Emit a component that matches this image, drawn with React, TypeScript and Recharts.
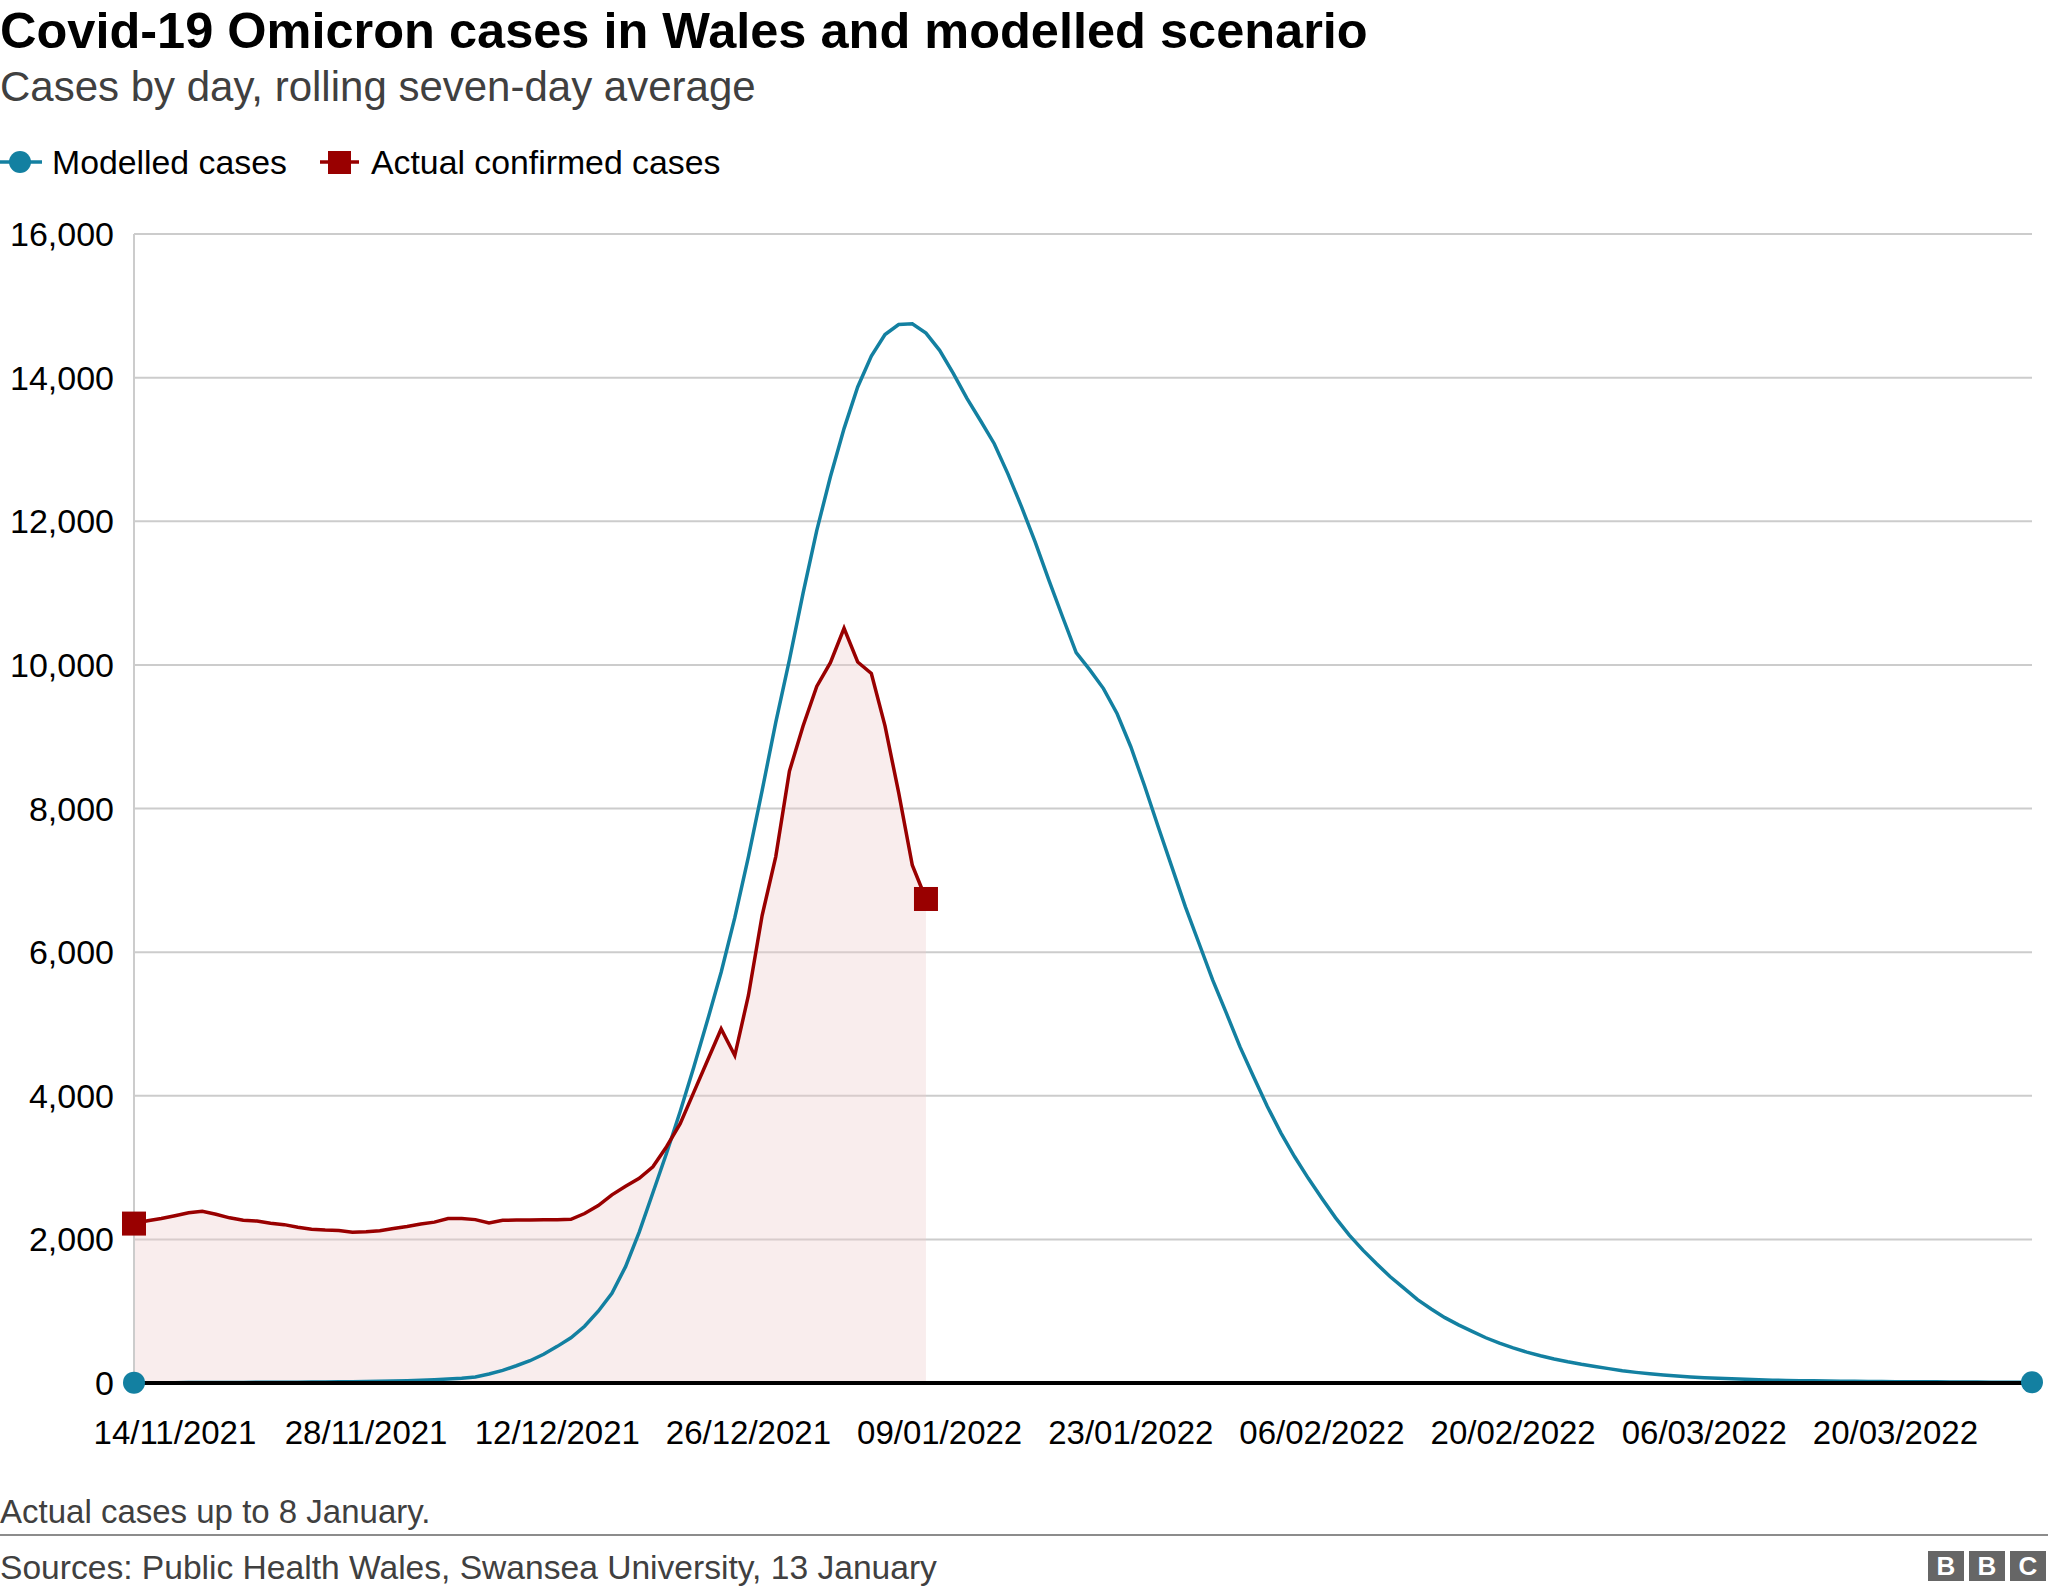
import React from "react";
import {
  ComposedChart,
  Line,
  Area,
  XAxis,
  YAxis,
  CartesianGrid,
} from "recharts";

const BLUE = "#1380a1";
const RED = "#990000";
const FONT = "'Liberation Sans', Arial, Helvetica, sans-serif";

// one value per day, starting 11/11/2021
const modelled = [
  5, 5, 5, 5, 6, 6, 7, 7, 8, 9,
  10, 11, 12, 13, 15, 17, 19, 22, 25, 29,
  33, 38, 45, 54, 65, 85, 125, 175, 240, 310,
  400, 510, 630, 790, 1000, 1250, 1620, 2100, 2650, 3200,
  3780, 4400, 5050, 5720, 6480, 7330, 8250, 9200, 10070, 11000,
  11870, 12620, 13290, 13870, 14300, 14600, 14740, 14750, 14620, 14380,
  14060, 13710, 13400, 13080, 12660, 12200, 11710, 11180, 10670, 10170,
  9930, 9670, 9320, 8860, 8320, 7750, 7190, 6630, 6120, 5610,
  5150, 4680, 4260, 3850, 3480, 3150, 2850, 2570, 2300, 2060,
  1850, 1660, 1480, 1320, 1160, 1030, 910, 810, 720, 630,
  555, 490, 430, 380, 335, 295, 260, 230, 200, 170,
  148, 128, 110, 96, 84, 74, 66, 58, 51, 45,
  40, 36, 33, 30, 28, 26, 24, 22, 20, 19,
  18, 17, 16, 15, 14, 13, 12, 12, 11, 10,
];

// actual confirmed cases, 11/11/2021 to 08/01/2022
const actual = [
  2220, 2260, 2290, 2330, 2370, 2390, 2350, 2300, 2265, 2255,
  2225, 2205, 2170, 2140, 2130, 2125, 2100, 2105, 2120, 2150,
  2180, 2215, 2240, 2290, 2290, 2275, 2230, 2265, 2270, 2270,
  2275, 2275, 2280, 2360, 2470, 2620, 2740, 2850, 3010, 3290,
  3610, 4050, 4490, 4930, 4560, 5400, 6510, 7330, 8520, 9150,
  9700, 10030, 10510, 10040, 9880, 9150, 8220, 7210, 6740,
];

const tickDays = [3, 17, 31, 45, 59, 73, 87, 101, 115, 129];
const tickLabels = [
  "14/11/2021",
  "28/11/2021",
  "12/12/2021",
  "26/12/2021",
  "09/01/2022",
  "23/01/2022",
  "06/02/2022",
  "20/02/2022",
  "06/03/2022",
  "20/03/2022",
];
const yTicks = [0, 2000, 4000, 6000, 8000, 10000, 12000, 14000, 16000];

const data = modelled.map((m, i) => ({
  day: i,
  modelled: m,
  actual: i < actual.length ? actual[i] : null,
}));

const ModelDot = (props: any) => {
  const { cx, cy, index } = props;
  if (index !== 0 && index !== modelled.length - 1) return <g key={`m${index}`} />;
  return <circle key={`m${index}`} cx={cx} cy={cy} r={11} fill={BLUE} />;
};

const ActualDot = (props: any) => {
  const { cx, cy, index } = props;
  if (index !== 0 && index !== actual.length - 1) return <g key={`a${index}`} />;
  return <rect key={`a${index}`} x={cx - 12} y={cy - 12} width={24} height={24} fill={RED} />;
};

const text = (top: number, size: number, extra: React.CSSProperties = {}) => ({
  position: "absolute" as const,
  left: 0,
  top,
  fontSize: size,
  lineHeight: `${size}px`,
  whiteSpace: "nowrap" as const,
  ...extra,
});

const App = () => {
  return (
    <div
      style={{
        position: "absolute",
        left: 0,
        top: 0,
        width: 2048,
        height: 1594,
        background: "#fff",
        fontFamily: FONT,
        overflow: "hidden",
      }}
    >
      <div style={text(6, 50.5, { fontWeight: "bold", color: "#000" })}>
        Covid-19 Omicron cases in Wales and modelled scenario
      </div>
      <div style={text(66, 42, { color: "#404040" })}>
        Cases by day, rolling seven-day average
      </div>

      {/* legend */}
      <svg style={{ position: "absolute", left: 0, top: 140 }} width={400} height={44}>
        <line x1={0} y1={22} x2={42} y2={22} stroke={BLUE} strokeWidth={3.5} />
        <circle cx={20} cy={22} r={11} fill={BLUE} />
        <line x1={320} y1={22} x2={359} y2={22} stroke={RED} strokeWidth={3.5} />
        <rect x={328} y={11} width={23} height={23} fill={RED} />
      </svg>
      <div style={text(146, 33.8, { left: 52, color: "#000" })}>Modelled cases</div>
      <div style={text(146, 33.8, { left: 371, color: "#000" })}>Actual confirmed cases</div>

      <div style={{ position: "absolute", left: 0, top: 0 }}>
        <ComposedChart
          width={2048}
          height={1480}
          data={data}
          margin={{ top: 234, right: 16, bottom: 17, left: 14 }}
        >
          <CartesianGrid horizontal vertical={false} stroke="#cccccc" strokeWidth={2} />
          <XAxis
            dataKey="day"
            type="number"
            domain={[0, modelled.length - 1]}
            ticks={tickDays}
            tickFormatter={(v) => tickLabels[tickDays.indexOf(v)]}
            interval={0}
            height={80}
            tickLine={false}
            tickMargin={32}
            axisLine={{ stroke: "#000", strokeWidth: 4 }}
            tick={{ fill: "#000", fontSize: 33, fontFamily: FONT }}
          />
          <YAxis
            domain={[0, 16000]}
            ticks={yTicks}
            width={120}
            tickLine={false}
            tickMargin={14}
            axisLine={{ stroke: "#cccccc", strokeWidth: 2 }}
            tickFormatter={(v) => v.toLocaleString("en-GB")}
            tick={{ fill: "#000", fontSize: 34, fontFamily: FONT }}
          />
          <Line
            type="linear"
            dataKey="modelled"
            stroke={BLUE}
            strokeWidth={3.5}
            dot={ModelDot}
            activeDot={false}
            isAnimationActive={false}
          />
          <Area
            type="linear"
            dataKey="actual"
            fill="#eecccc"
            fillOpacity={0.35}
            stroke="none"
            dot={false}
            activeDot={false}
            isAnimationActive={false}
          />
          <Line
            type="linear"
            dataKey="actual"
            stroke={RED}
            strokeWidth={3.5}
            dot={ActualDot}
            activeDot={false}
            isAnimationActive={false}
          />
        </ComposedChart>
      </div>

      <div style={text(1495, 33, { color: "#404040" })}>Actual cases up to 8 January.</div>
      <div style={{ position: "absolute", left: 0, top: 1534, width: 2048, height: 2, background: "#8c8c8c" }} />
      <div style={text(1551, 33.6, { color: "#404040" })}>
        Sources: Public Health Wales, Swansea University, 13 January
      </div>
      <div style={{ position: "absolute", left: 1928, top: 1551, display: "flex", gap: 5 }}>
        {["B", "B", "C"].map((l, i) => (
          <div
            key={i}
            style={{
              width: 36,
              height: 30,
              background: "#666",
              color: "#fff",
              fontWeight: "bold",
              fontSize: 26,
              lineHeight: "30px",
              textAlign: "center",
            }}
          >
            {l}
          </div>
        ))}
      </div>
    </div>
  );
};

export default App;
